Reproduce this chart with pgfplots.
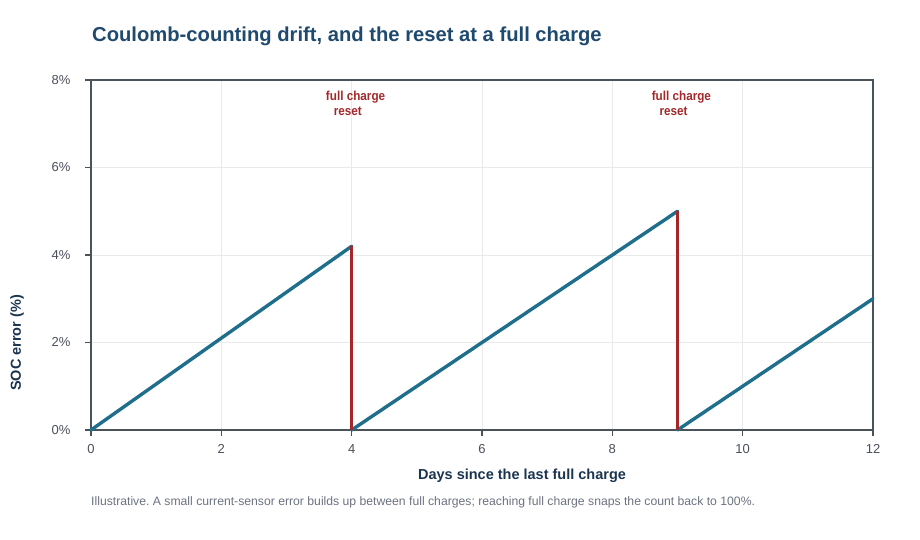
\documentclass[border=0pt]{standalone}
\usepackage{pgfplots}
\pgfplotsset{compat=1.18}
\usepackage{fontspec}
\setmainfont{Liberation Sans}
\frenchspacing

\definecolor{titleblue}{HTML}{1F4A6E}
\definecolor{labelnavy}{HTML}{1B3550}
\definecolor{tickgray}{HTML}{4A4F5A}
\definecolor{framegray}{HTML}{4A525A}
\definecolor{gridgray}{HTML}{EAEAEA}
\definecolor{drift}{HTML}{1F6E8C}
\definecolor{resetred}{HTML}{A4282A}
\definecolor{notegray}{HTML}{6B7280}

% SOC error (%) against days since the last full charge
\pgfplotstableread{
x y
0 0
4 4.2
}\cycleA
\pgfplotstableread{
x y
4 0
9 5
}\cycleB
\pgfplotstableread{
x y
9 0
12 3
}\cycleC
\pgfplotstableread{
x y
4 4.2
4 0
}\resetA
\pgfplotstableread{
x y
9 5
9 0
}\resetB

\begin{document}
\begin{tikzpicture}[x=1pt,y=1pt]
\path[use as bounding box] (0,0) rectangle (920,540);

\node[anchor=base west, text=titleblue, inner sep=0pt] at (92,498)
  {\fontsize{20.2}{24}\selectfont\bfseries Coulomb-counting drift, and the reset at a full charge};

\begin{axis}[
  at={(91pt,110pt)}, anchor=south west,
  scale only axis, width=782pt, height=350pt,
  xmin=0, xmax=12, ymin=0, ymax=8,
  xtick={0,2,4,6,8,10,12}, ytick={0,2,4,6,8},
  yticklabel={\pgfmathprintnumber{\tick}\%},
  /pgf/number format/assume math mode=true,
  tick pos=left, tick align=outside,
  major tick length=6pt,
  every tick/.style={draw=framegray, line width=1.6pt},
  axis line style={draw=framegray, line width=1.4pt},
  grid=major, major grid style={draw=gridgray, line width=0.9pt},
  ticklabel style={text=tickgray, font=\fontsize{13}{13}\selectfont},
  yticklabel style={xshift=-11pt},
  xticklabel style={yshift=-5pt},
  xlabel={Days since the last full charge},
  ylabel={SOC error (\%)},
  xlabel style={at={(axis description cs:0.5512,0)}, anchor=base, yshift=-50pt,
    text=labelnavy, font=\fontsize{14.5}{16}\selectfont\bfseries},
  ylabel style={at={(axis description cs:-0.0946,0.249)}, anchor=center, rotate=0,
    text=labelnavy, font=\fontsize{14.5}{16}\selectfont\bfseries},
  clip=false,
]
\addplot[drift, line width=3.4pt, line cap=round] table[x=x,y=y] {\cycleA};
\addplot[drift, line width=3.4pt, line cap=round] table[x=x,y=y] {\cycleB};
\addplot[drift, line width=3.4pt, line cap=round] table[x=x,y=y] {\cycleC};
\addplot[resetred, line width=3pt] table[x=x,y=y] {\resetA};
\addplot[resetred, line width=3pt] table[x=x,y=y] {\resetB};

\node[anchor=base, text=resetred, inner sep=0pt] at (axis cs:4.06,7.54)
  {\scalebox{0.9}[1]{\fontsize{13}{13}\selectfont\bfseries full charge}};
\node[anchor=base, text=resetred, inner sep=0pt] at (axis cs:3.94,7.19)
  {\scalebox{0.9}[1]{\fontsize{13}{13}\selectfont\bfseries reset}};
\node[anchor=base, text=resetred, inner sep=0pt] at (axis cs:9.06,7.54)
  {\scalebox{0.9}[1]{\fontsize{13}{13}\selectfont\bfseries full charge}};
\node[anchor=base, text=resetred, inner sep=0pt] at (axis cs:8.94,7.19)
  {\scalebox{0.9}[1]{\fontsize{13}{13}\selectfont\bfseries reset}};
\end{axis}

\node[anchor=base west, text=notegray, inner sep=0pt] at (91,34)
  {\fontsize{12.2}{14}\selectfont Illustrative. A small current-sensor error builds up between full charges; reaching full charge snaps the count back to 100\%.};
\end{tikzpicture}
\end{document}
